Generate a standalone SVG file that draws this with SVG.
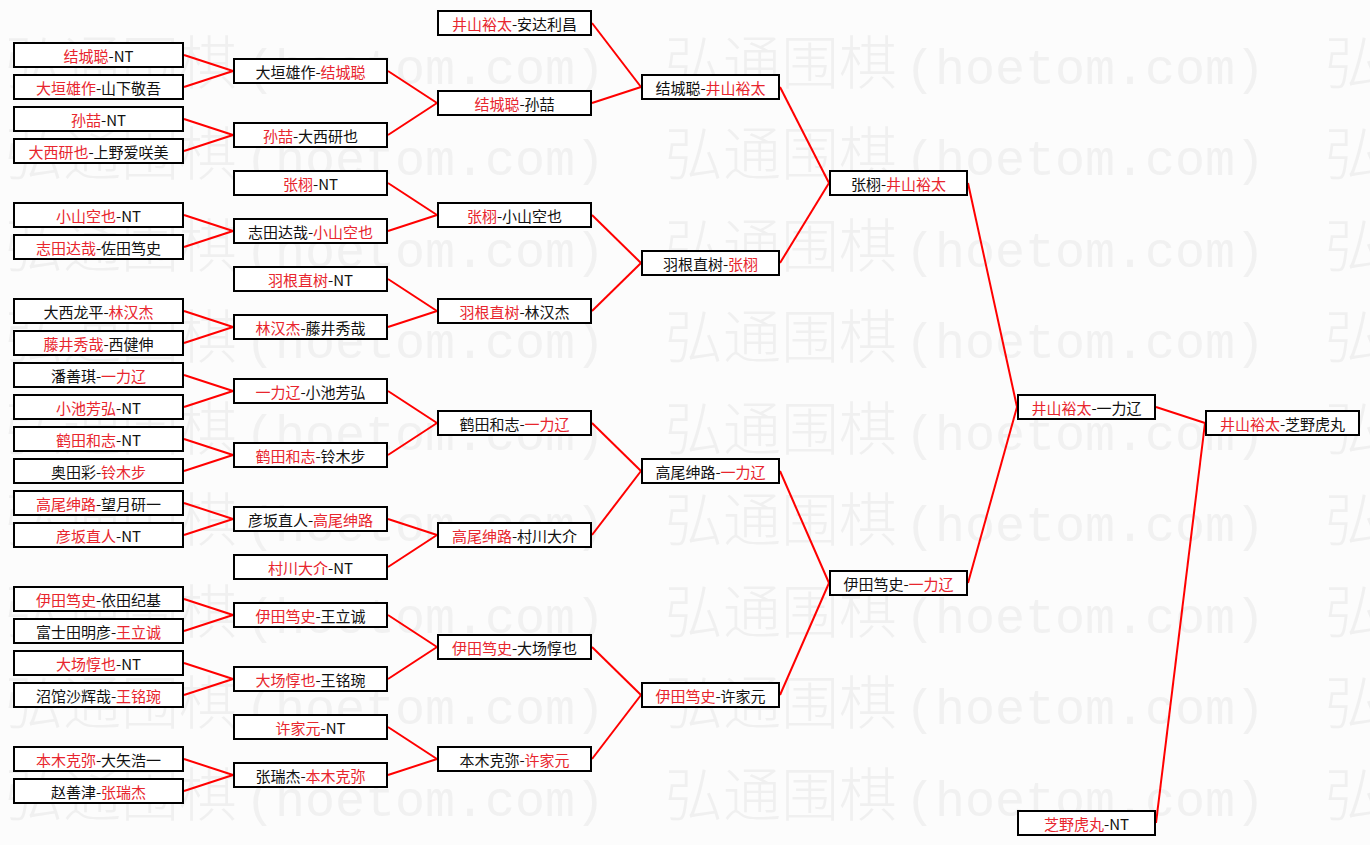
<svg xmlns="http://www.w3.org/2000/svg" xmlns:xlink="http://www.w3.org/1999/xlink" width="1370" height="845" viewBox="0 0 1370 845">
<style>
.node rect{fill:#fff;stroke:#000;stroke-width:2}
.node text{font-family:"Noto Sans CJK SC","Noto Sans",sans-serif;font-size:15px;text-anchor:middle;dominant-baseline:central;fill:#111}
.node .r{fill:#e8262e}
#links line{stroke:#f00;stroke-width:2}
.wmc{font-family:"Noto Sans CJK SC",sans-serif;font-size:58px;font-weight:200;fill:#f0f0f0}
.wma{font-family:"Liberation Mono",monospace;font-size:50px;fill:#f1f1f1}
</style>
<defs>
<g id="wmrow">
<text class="wmc" x="5" y="0">弘通围棋</text><text class="wma" x="245" y="0">(hoetom.com)</text>
<text class="wmc" x="665" y="0">弘通围棋</text><text class="wma" x="905" y="0">(hoetom.com)</text>
<text class="wmc" x="1325" y="0">弘通围棋</text>
</g>
</defs>
<rect width="1370" height="845" fill="#fcfcfc"/>
<g id="watermark">
<use xlink:href="#wmrow" y="84"/><use xlink:href="#wmrow" y="175"/><use xlink:href="#wmrow" y="267"/>
<use xlink:href="#wmrow" y="358"/><use xlink:href="#wmrow" y="450"/><use xlink:href="#wmrow" y="541"/>
<use xlink:href="#wmrow" y="633"/><use xlink:href="#wmrow" y="724"/><use xlink:href="#wmrow" y="816"/>
</g>
<g id="links">
<line x1="184" y1="55" x2="233" y2="71"/><line x1="184" y1="87" x2="233" y2="71"/>
<line x1="184" y1="119" x2="233" y2="135"/><line x1="184" y1="151" x2="233" y2="135"/>
<line x1="184" y1="215" x2="233" y2="231"/><line x1="184" y1="247" x2="233" y2="231"/>
<line x1="184" y1="311" x2="233" y2="327"/><line x1="184" y1="343" x2="233" y2="327"/>
<line x1="184" y1="375" x2="233" y2="391"/><line x1="184" y1="407" x2="233" y2="391"/>
<line x1="184" y1="439" x2="233" y2="455"/><line x1="184" y1="471" x2="233" y2="455"/>
<line x1="184" y1="503" x2="233" y2="519"/><line x1="184" y1="535" x2="233" y2="519"/>
<line x1="184" y1="599" x2="233" y2="615"/><line x1="184" y1="631" x2="233" y2="615"/>
<line x1="184" y1="663" x2="233" y2="679"/><line x1="184" y1="695" x2="233" y2="679"/>
<line x1="184" y1="759" x2="233" y2="775"/><line x1="184" y1="791" x2="233" y2="775"/>
<line x1="388" y1="71" x2="437" y2="103"/><line x1="388" y1="135" x2="437" y2="103"/>
<line x1="388" y1="183" x2="437" y2="215"/><line x1="388" y1="231" x2="437" y2="215"/>
<line x1="388" y1="279" x2="437" y2="311"/><line x1="388" y1="327" x2="437" y2="311"/>
<line x1="388" y1="391" x2="437" y2="423"/><line x1="388" y1="455" x2="437" y2="423"/>
<line x1="388" y1="519" x2="437" y2="535"/><line x1="388" y1="567" x2="437" y2="535"/>
<line x1="388" y1="615" x2="437" y2="647"/><line x1="388" y1="679" x2="437" y2="647"/>
<line x1="388" y1="727" x2="437" y2="759"/><line x1="388" y1="775" x2="437" y2="759"/>
<line x1="592" y1="23" x2="641" y2="87"/><line x1="592" y1="103" x2="641" y2="87"/>
<line x1="592" y1="215" x2="641" y2="263"/><line x1="592" y1="311" x2="641" y2="263"/>
<line x1="592" y1="423" x2="641" y2="471"/><line x1="592" y1="535" x2="641" y2="471"/>
<line x1="592" y1="647" x2="641" y2="695"/><line x1="592" y1="759" x2="641" y2="695"/>
<line x1="780" y1="87" x2="829" y2="183"/><line x1="780" y1="263" x2="829" y2="183"/>
<line x1="780" y1="471" x2="829" y2="583"/><line x1="780" y1="695" x2="829" y2="583"/>
<line x1="968" y1="183" x2="1017" y2="407"/><line x1="968" y1="583" x2="1017" y2="407"/>
<line x1="1156" y1="407" x2="1205" y2="423"/><line x1="1156" y1="823" x2="1205" y2="423"/>
</g>
<!-- column 1 -->
<g id="c1n1" class="node"><rect x="14" y="43" width="169" height="24"/><text x="98.5" y="55"><tspan class="r">结城聪</tspan>-NT</text></g>
<g id="c1n2" class="node"><rect x="14" y="75" width="169" height="24"/><text x="98.5" y="87"><tspan class="r">大垣雄作</tspan>-山下敬吾</text></g>
<g id="c1n3" class="node"><rect x="14" y="107" width="169" height="24"/><text x="98.5" y="119"><tspan class="r">孙喆</tspan>-NT</text></g>
<g id="c1n4" class="node"><rect x="14" y="139" width="169" height="24"/><text x="98.5" y="151"><tspan class="r">大西研也</tspan>-上野爱咲美</text></g>
<g id="c1n5" class="node"><rect x="14" y="203" width="169" height="24"/><text x="98.5" y="215"><tspan class="r">小山空也</tspan>-NT</text></g>
<g id="c1n6" class="node"><rect x="14" y="235" width="169" height="24"/><text x="98.5" y="247"><tspan class="r">志田达哉</tspan>-佐田笃史</text></g>
<g id="c1n7" class="node"><rect x="14" y="299" width="169" height="24"/><text x="98.5" y="311">大西龙平-<tspan class="r">林汉杰</tspan></text></g>
<g id="c1n8" class="node"><rect x="14" y="331" width="169" height="24"/><text x="98.5" y="343"><tspan class="r">藤井秀哉</tspan>-西健伸</text></g>
<g id="c1n9" class="node"><rect x="14" y="363" width="169" height="24"/><text x="98.5" y="375">潘善琪-<tspan class="r">一力辽</tspan></text></g>
<g id="c1n10" class="node"><rect x="14" y="395" width="169" height="24"/><text x="98.5" y="407"><tspan class="r">小池芳弘</tspan>-NT</text></g>
<g id="c1n11" class="node"><rect x="14" y="427" width="169" height="24"/><text x="98.5" y="439"><tspan class="r">鹤田和志</tspan>-NT</text></g>
<g id="c1n12" class="node"><rect x="14" y="459" width="169" height="24"/><text x="98.5" y="471">奥田彩-<tspan class="r">铃木步</tspan></text></g>
<g id="c1n13" class="node"><rect x="14" y="491" width="169" height="24"/><text x="98.5" y="503"><tspan class="r">高尾绅路</tspan>-望月研一</text></g>
<g id="c1n14" class="node"><rect x="14" y="523" width="169" height="24"/><text x="98.5" y="535"><tspan class="r">彦坂直人</tspan>-NT</text></g>
<g id="c1n15" class="node"><rect x="14" y="587" width="169" height="24"/><text x="98.5" y="599"><tspan class="r">伊田笃史</tspan>-依田纪基</text></g>
<g id="c1n16" class="node"><rect x="14" y="619" width="169" height="24"/><text x="98.5" y="631">富士田明彦-<tspan class="r">王立诚</tspan></text></g>
<g id="c1n17" class="node"><rect x="14" y="651" width="169" height="24"/><text x="98.5" y="663"><tspan class="r">大场惇也</tspan>-NT</text></g>
<g id="c1n18" class="node"><rect x="14" y="683" width="169" height="24"/><text x="98.5" y="695">沼馆沙辉哉-<tspan class="r">王铭琬</tspan></text></g>
<g id="c1n19" class="node"><rect x="14" y="747" width="169" height="24"/><text x="98.5" y="759"><tspan class="r">本木克弥</tspan>-大矢浩一</text></g>
<g id="c1n20" class="node"><rect x="14" y="779" width="169" height="24"/><text x="98.5" y="791">赵善津-<tspan class="r">张瑞杰</tspan></text></g>
<!-- column 2 -->
<g id="c2n1" class="node"><rect x="234" y="59" width="153" height="24"/><text x="310.5" y="71">大垣雄作-<tspan class="r">结城聪</tspan></text></g>
<g id="c2n2" class="node"><rect x="234" y="123" width="153" height="24"/><text x="310.5" y="135"><tspan class="r">孙喆</tspan>-大西研也</text></g>
<g id="c2n3" class="node"><rect x="234" y="171" width="153" height="24"/><text x="310.5" y="183"><tspan class="r">张栩</tspan>-NT</text></g>
<g id="c2n4" class="node"><rect x="234" y="219" width="153" height="24"/><text x="310.5" y="231">志田达哉-<tspan class="r">小山空也</tspan></text></g>
<g id="c2n5" class="node"><rect x="234" y="267" width="153" height="24"/><text x="310.5" y="279"><tspan class="r">羽根直树</tspan>-NT</text></g>
<g id="c2n6" class="node"><rect x="234" y="315" width="153" height="24"/><text x="310.5" y="327"><tspan class="r">林汉杰</tspan>-藤井秀哉</text></g>
<g id="c2n7" class="node"><rect x="234" y="379" width="153" height="24"/><text x="310.5" y="391"><tspan class="r">一力辽</tspan>-小池芳弘</text></g>
<g id="c2n8" class="node"><rect x="234" y="443" width="153" height="24"/><text x="310.5" y="455"><tspan class="r">鹤田和志</tspan>-铃木步</text></g>
<g id="c2n9" class="node"><rect x="234" y="507" width="153" height="24"/><text x="310.5" y="519">彦坂直人-<tspan class="r">高尾绅路</tspan></text></g>
<g id="c2n10" class="node"><rect x="234" y="555" width="153" height="24"/><text x="310.5" y="567"><tspan class="r">村川大介</tspan>-NT</text></g>
<g id="c2n11" class="node"><rect x="234" y="603" width="153" height="24"/><text x="310.5" y="615"><tspan class="r">伊田笃史</tspan>-王立诚</text></g>
<g id="c2n12" class="node"><rect x="234" y="667" width="153" height="24"/><text x="310.5" y="679"><tspan class="r">大场惇也</tspan>-王铭琬</text></g>
<g id="c2n13" class="node"><rect x="234" y="715" width="153" height="24"/><text x="310.5" y="727"><tspan class="r">许家元</tspan>-NT</text></g>
<g id="c2n14" class="node"><rect x="234" y="763" width="153" height="24"/><text x="310.5" y="775">张瑞杰-<tspan class="r">本木克弥</tspan></text></g>
<!-- column 3 -->
<g id="c3n1" class="node"><rect x="438" y="11" width="153" height="24"/><text x="514.5" y="23"><tspan class="r">井山裕太</tspan>-安达利昌</text></g>
<g id="c3n2" class="node"><rect x="438" y="91" width="153" height="24"/><text x="514.5" y="103"><tspan class="r">结城聪</tspan>-孙喆</text></g>
<g id="c3n3" class="node"><rect x="438" y="203" width="153" height="24"/><text x="514.5" y="215"><tspan class="r">张栩</tspan>-小山空也</text></g>
<g id="c3n4" class="node"><rect x="438" y="299" width="153" height="24"/><text x="514.5" y="311"><tspan class="r">羽根直树</tspan>-林汉杰</text></g>
<g id="c3n5" class="node"><rect x="438" y="411" width="153" height="24"/><text x="514.5" y="423">鹤田和志-<tspan class="r">一力辽</tspan></text></g>
<g id="c3n6" class="node"><rect x="438" y="523" width="153" height="24"/><text x="514.5" y="535"><tspan class="r">高尾绅路</tspan>-村川大介</text></g>
<g id="c3n7" class="node"><rect x="438" y="635" width="153" height="24"/><text x="514.5" y="647"><tspan class="r">伊田笃史</tspan>-大场惇也</text></g>
<g id="c3n8" class="node"><rect x="438" y="747" width="153" height="24"/><text x="514.5" y="759">本木克弥-<tspan class="r">许家元</tspan></text></g>
<!-- column 4 -->
<g id="c4n1" class="node"><rect x="642" y="75" width="137" height="24"/><text x="710.5" y="87">结城聪-<tspan class="r">井山裕太</tspan></text></g>
<g id="c4n2" class="node"><rect x="642" y="251" width="137" height="24"/><text x="710.5" y="263">羽根直树-<tspan class="r">张栩</tspan></text></g>
<g id="c4n3" class="node"><rect x="642" y="459" width="137" height="24"/><text x="710.5" y="471">高尾绅路-<tspan class="r">一力辽</tspan></text></g>
<g id="c4n4" class="node"><rect x="642" y="683" width="137" height="24"/><text x="710.5" y="695"><tspan class="r">伊田笃史</tspan>-许家元</text></g>
<!-- column 5 -->
<g id="c5n1" class="node"><rect x="830" y="171" width="137" height="24"/><text x="898.5" y="183">张栩-<tspan class="r">井山裕太</tspan></text></g>
<g id="c5n2" class="node"><rect x="830" y="571" width="137" height="24"/><text x="898.5" y="583">伊田笃史-<tspan class="r">一力辽</tspan></text></g>
<!-- column 6 -->
<g id="c6n1" class="node"><rect x="1018" y="395" width="137" height="24"/><text x="1086.5" y="407"><tspan class="r">井山裕太</tspan>-一力辽</text></g>
<g id="c6n2" class="node"><rect x="1018" y="811" width="137" height="24"/><text x="1086.5" y="823"><tspan class="r">芝野虎丸</tspan>-NT</text></g>
<!-- final -->
<g id="c7n1" class="node"><rect x="1206" y="411" width="153" height="24"/><text x="1282.5" y="423"><tspan class="r">井山裕太</tspan>-芝野虎丸</text></g>
</svg>
